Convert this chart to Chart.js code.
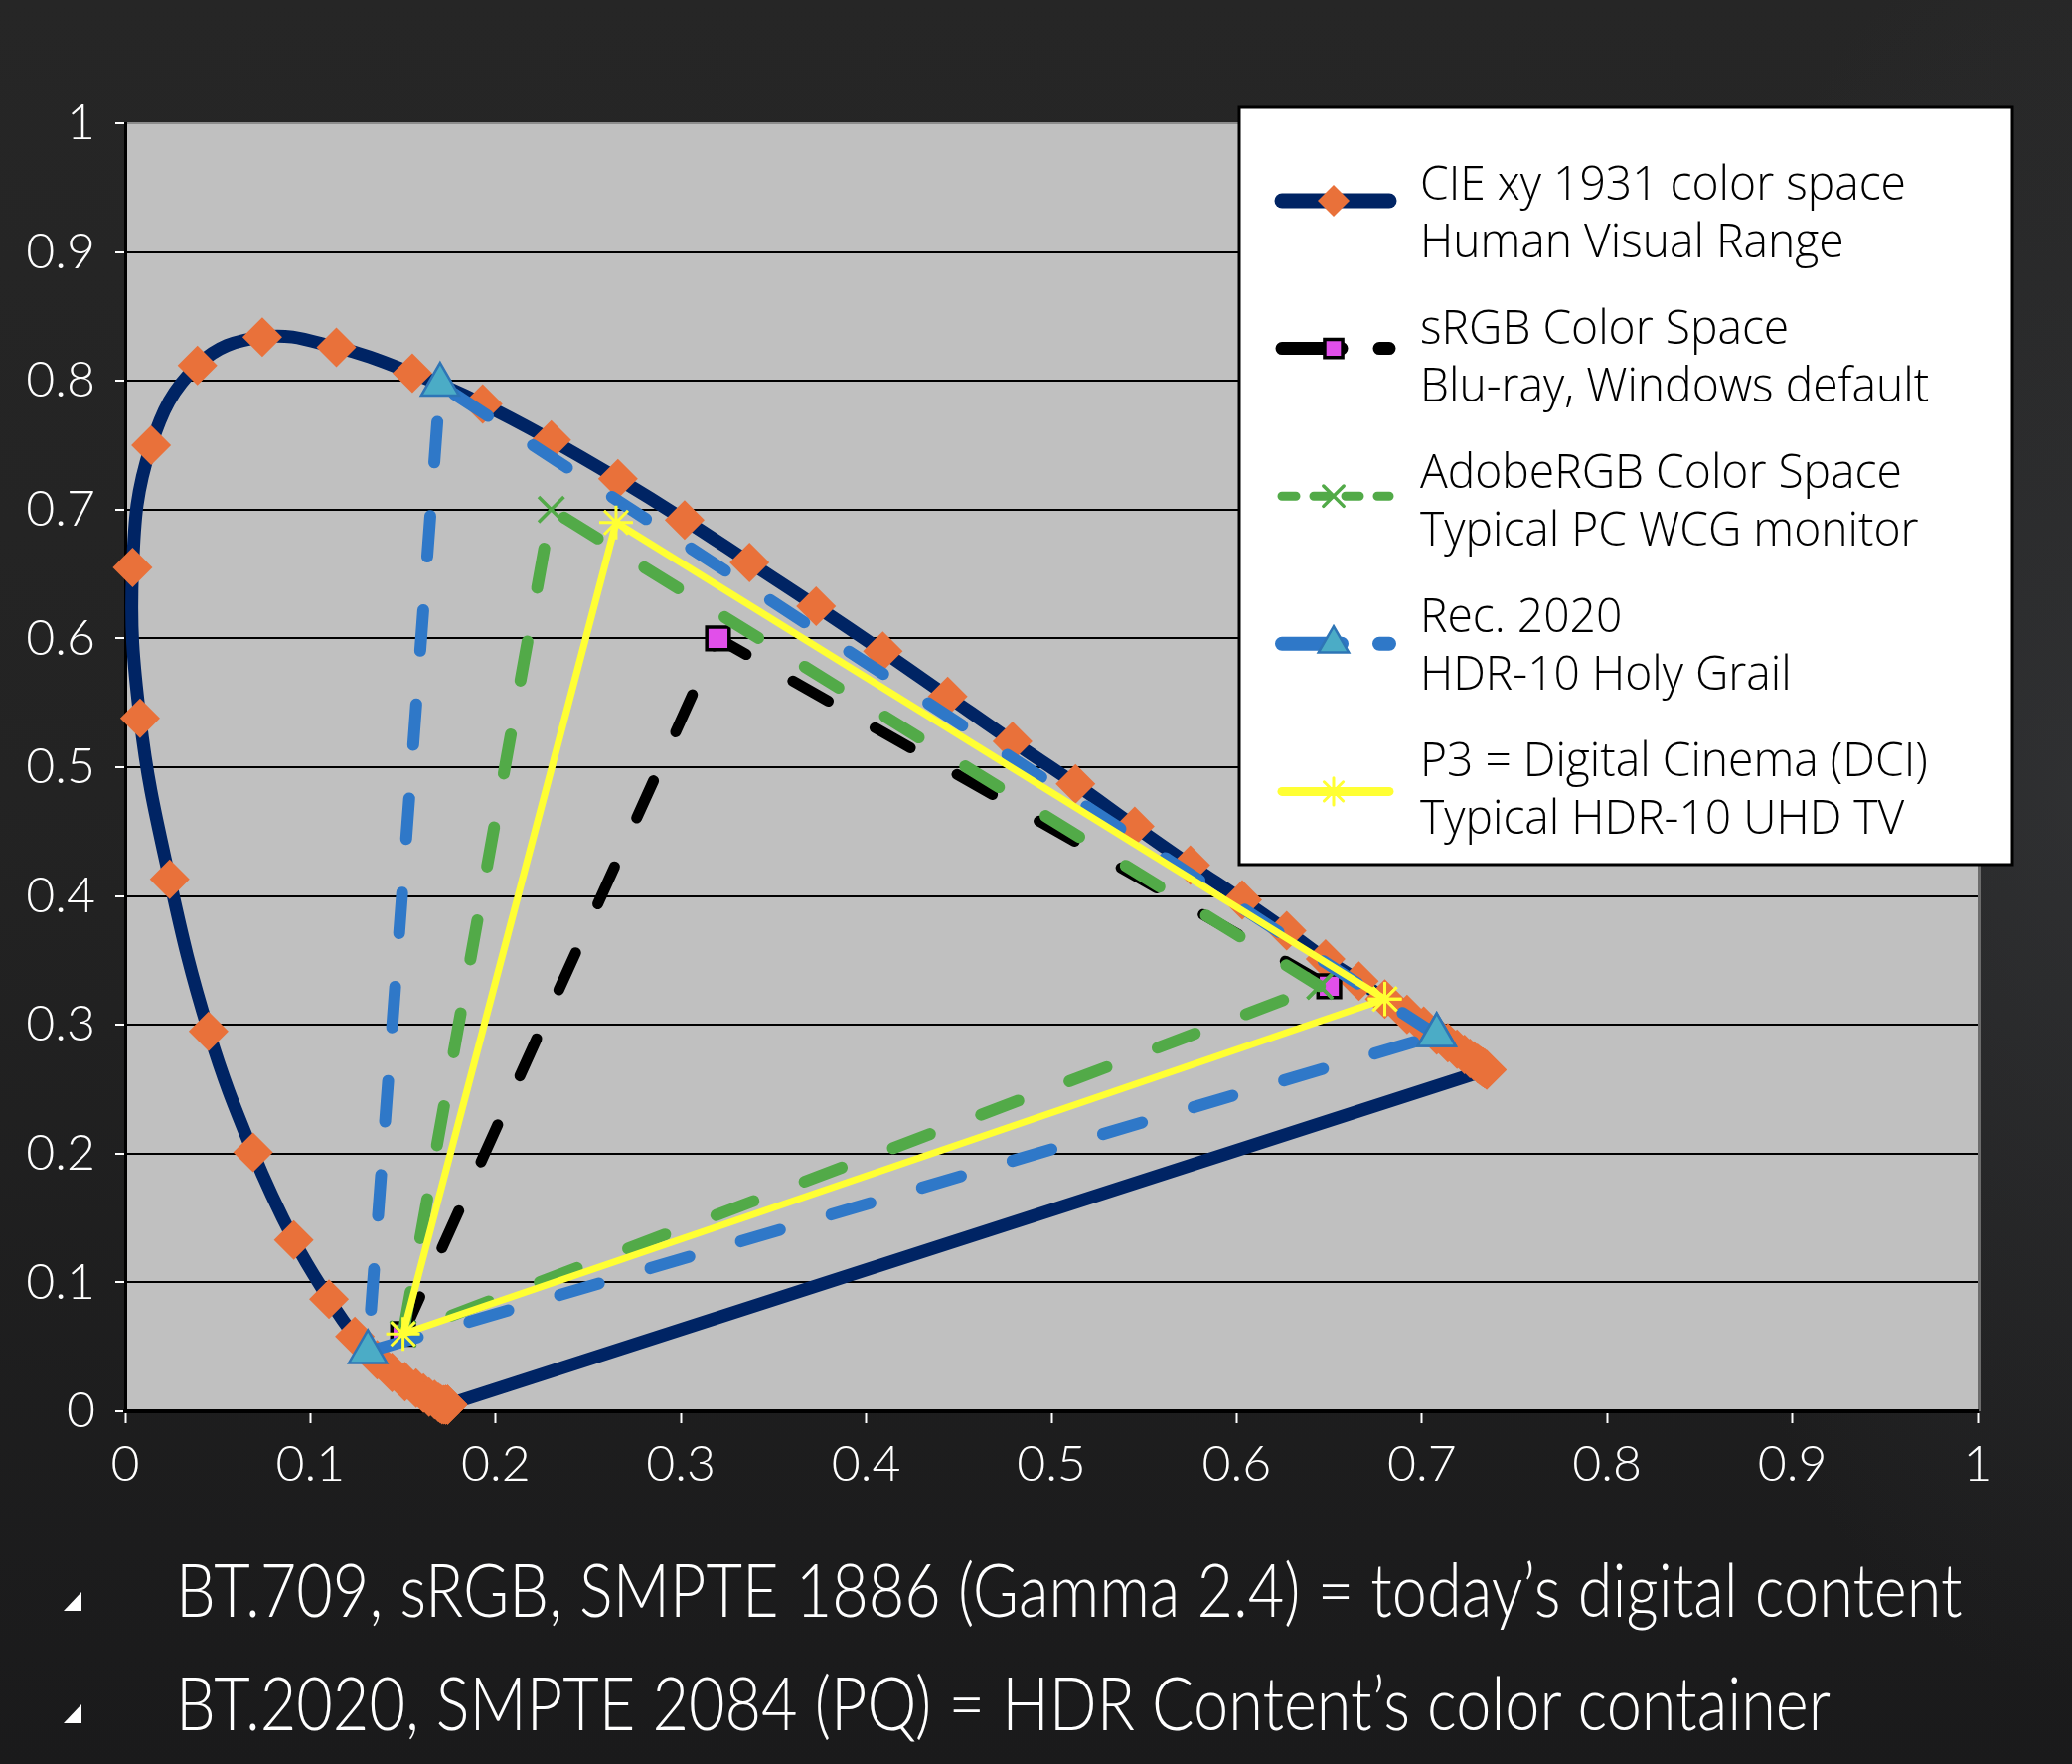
<!DOCTYPE html>
<html>
<head>
<meta charset="utf-8">
<title>Color gamuts on the CIE xy 1931 chart</title>
<script src="https://cdn.jsdelivr.net/npm/chart.js@4.4.1/dist/chart.umd.min.js"></script>
<style>
  html, body { margin: 0; padding: 0; }
  body {
    width: 2085px; height: 1775px; overflow: hidden; position: relative;
    background:
      radial-gradient(ellipse 420px 900px at 100% 45%, rgba(62, 64, 68, 0.45), rgba(0, 0, 0, 0) 100%),
      linear-gradient(180deg, #262626 0%, #232323 45%, #1a1a1b 100%);
    font-family: 'Open Sans', 'Noto Sans', sans-serif;
  }
  #wrap { position: absolute; left: 0; top: 0; width: 2085px; height: 1530px; }
  .note {
    position: absolute; left: 177px; color: #fff; font-family: Lato, 'Open Sans', sans-serif;
    font-size: 74px; font-weight: 300; line-height: 74px; white-space: nowrap; transform-origin: 0 0;
  }
  .bullet {
    position: absolute; left: 64px; width: 18px; height: 19px; background: #fff;
    clip-path: polygon(100% 0, 100% 100%, 0 100%);
  }
</style>
</head>
<body>
<div id="wrap"><canvas id="chart"></canvas></div>
<div class="bullet" style="top:1602px"></div>
<div class="note" id="note1" style="top:1562px">BT.709, sRGB, SMPTE 1886 (Gamma 2.4) = today’s digital content</div>
<div class="bullet" style="top:1715px"></div>
<div class="note" id="note2" style="top:1676px">BT.2020, SMPTE 2084 (PQ) = HDR Content’s color container</div>
<script>
// spectral locus, 380 -> 700 nm, then back to 380 nm (line of purples)
const cieX = [0.174, 0.174, 0.174, 0.174, 0.173, 0.173, 0.173, 0.172, 0.171, 0.170,
  0.169, 0.167, 0.164, 0.161, 0.157, 0.151, 0.144, 0.136, 0.124, 0.110,
  0.091, 0.069, 0.045, 0.024, 0.008, 0.004, 0.014, 0.039, 0.074, 0.114,
  0.155, 0.193, 0.230, 0.266, 0.302, 0.337, 0.373, 0.409, 0.444, 0.479,
  0.513, 0.545, 0.575, 0.603, 0.627, 0.648, 0.666, 0.680, 0.692, 0.701,
  0.708, 0.714, 0.719, 0.723, 0.726, 0.728, 0.730, 0.731, 0.732, 0.733,
  0.733, 0.734, 0.734, 0.735, 0.735, 0.174];
const cieY = [0.005, 0.005, 0.005, 0.005, 0.005, 0.005, 0.005, 0.005, 0.005, 0.006,
  0.007, 0.009, 0.011, 0.014, 0.018, 0.023, 0.030, 0.040, 0.058, 0.087,
  0.133, 0.201, 0.295, 0.413, 0.538, 0.655, 0.750, 0.812, 0.834, 0.826,
  0.806, 0.782, 0.754, 0.724, 0.692, 0.659, 0.625, 0.590, 0.555, 0.520,
  0.487, 0.454, 0.424, 0.397, 0.373, 0.351, 0.334, 0.320, 0.308, 0.299,
  0.292, 0.286, 0.281, 0.277, 0.274, 0.272, 0.270, 0.269, 0.268, 0.267,
  0.267, 0.266, 0.266, 0.265, 0.265, 0.005];

// gamut triangles (blue, green, red corners)
const srgbX = [0.15, 0.32, 0.65];
const srgbY = [0.06, 0.60, 0.33];
const adobeX = [0.645, 0.23, 0.15, 0.645];
const adobeY = [0.33, 0.70, 0.06, 0.33];
const rec2020X = [0.708, 0.170, 0.131, 0.708];
const rec2020Y = [0.292, 0.797, 0.046, 0.292];
const p3X = [0.680, 0.265, 0.150, 0.680];
const p3Y = [0.320, 0.690, 0.060, 0.320];

const xTickLabels = ['0', '0.1', '0.2', '0.3', '0.4', '0.5', '0.6', '0.7', '0.8', '0.9', '1'];
const yTickLabels = ['0', '0.1', '0.2', '0.3', '0.4', '0.5', '0.6', '0.7', '0.8', '0.9', '1'];

const legendLabels = [
  ['CIE xy 1931 color space', 'Human Visual Range'],
  ['sRGB Color Space', 'Blu-ray, Windows default'],
  ['AdobeRGB Color Space', 'Typical PC WCG monitor'],
  ['Rec. 2020', 'HDR-10 Holy Grail'],
  ['P3 = Digital Cinema (DCI)', 'Typical HDR-10 UHD TV']
];

const punti = (xs, ys) => xs.map((x, i) => ({ x: x, y: ys[i] }));

const fonte = "'Open Sans', 'Noto Sans', sans-serif";

const datasets = [
  {
    label: legendLabels[0].join(' '), data: punti(cieX, cieY), order: 5,
    borderColor: '#002464', borderWidth: 13, tension: 0.4,
    pointStyle: 'rectRot', pointRadius: 20, pointBackgroundColor: '#e9713a',
    pointBorderColor: '#e9713a', pointBorderWidth: 0
  },
  {
    label: legendLabels[1].join(' '), data: punti(srgbX, srgbY), order: 4,
    borderColor: '#000000', borderWidth: 11, borderDash: [41, 54],
    pointStyle: 'rect', pointRadius: 16, pointBackgroundColor: '#e14fea',
    pointBorderColor: '#000000', pointBorderWidth: 3.5
  },
  {
    label: legendLabels[2].join(' '), data: punti(adobeX, adobeY), order: 3,
    borderColor: '#52aa48', borderWidth: 12, borderDash: [40, 55],
    pointStyle: 'crossRot', pointRadius: 18, pointBackgroundColor: '#52aa48',
    pointBorderColor: '#52aa48', pointBorderWidth: 3.5
  },
  {
    label: legendLabels[3].join(' '), data: punti(rec2020X, rec2020Y), order: 2,
    borderColor: '#2f78c8', borderWidth: 12, borderDash: [41, 54],
    pointStyle: 'triangle', pointRadius: 22, pointBackgroundColor: '#4bacc6',
    pointBorderColor: '#2e75b6', pointBorderWidth: 2.5
  },
  {
    label: legendLabels[4].join(' '), data: punti(p3X, p3Y), order: 1,
    borderColor: '#ffff33', borderWidth: 7,
    pointStyle: 'star', pointRadius: 17, pointBackgroundColor: '#ffff33',
    pointBorderColor: '#ffff33', pointBorderWidth: 3
  }
].map(d => Object.assign({
  showLine: true, tension: 0, borderDash: [], borderCapStyle: 'round', borderJoinStyle: 'round',
  clip: false, pointHoverRadius: d.pointRadius
}, d));

// legend samples
const legendDash = [[], [60, 38], [14, 18], [60, 38], []];

// grey plot area
const sfondoGrafico = {
  id: 'sfondoGrafico',
  beforeDraw(chart) {
    const { ctx, chartArea: a } = chart;
    ctx.save();
    ctx.fillStyle = '#c0c0c0';
    ctx.fillRect(a.left, a.top, a.right - a.left, a.bottom - a.top);
    ctx.strokeStyle = '#6c6c6c';
    ctx.lineWidth = 3;
    ctx.beginPath();
    ctx.moveTo(a.right + 1.5, a.top);
    ctx.lineTo(a.right + 1.5, a.bottom);
    ctx.stroke();
    ctx.restore();
  }
};

// boxed legend like the Excel one, top right
const legenda = {
  id: 'legenda',
  afterDraw(chart) {
    const ctx = chart.ctx;
    const box = { left: 1247, top: 108, right: 2025, bottom: 870 };
    ctx.save();
    ctx.fillStyle = '#ffffff';
    ctx.fillRect(box.left, box.top, box.right - box.left, box.bottom - box.top);
    ctx.strokeStyle = '#000000';
    ctx.lineWidth = 3;
    ctx.strokeRect(box.left, box.top, box.right - box.left, box.bottom - box.top);

    ctx.font = '300 47px ' + fonte;
    const sx = 489 / ctx.measureText(legendLabels[0][0]).width;

    chart.data.datasets.forEach((d, i) => {
      const sy = box.top + 94 + i * 148.6;
      ctx.strokeStyle = d.borderColor;
      ctx.lineWidth = i === 2 ? 9 : d.borderWidth + 2;
      ctx.lineCap = 'round';
      ctx.setLineDash(legendDash[i]);
      ctx.beginPath();
      ctx.moveTo(1290, sy);
      ctx.lineTo(1398, sy);
      ctx.stroke();
      ctx.setLineDash([]);
      ctx.fillStyle = d.pointBackgroundColor;
      ctx.strokeStyle = d.pointBorderColor;
      ctx.lineWidth = d.pointBorderWidth;
      Chart.helpers.drawPoint(ctx, {
        pointStyle: d.pointStyle, radius: d.pointRadius * 0.8, rotation: 0,
        borderWidth: d.pointBorderWidth
      }, 1342, sy);

      ctx.fillStyle = '#000000';
      ctx.font = '300 47px ' + fonte;
      ctx.textBaseline = 'middle';
      ctx.textAlign = 'left';
      const ty = box.top + 80 + i * 145;
      legendLabels[i].forEach((riga, k) => {
        ctx.save();
        ctx.translate(1429, ty + k * 58);
        ctx.scale(sx, 1);
        ctx.fillText(riga, 0, 0);
        ctx.restore();
      });
    });
    ctx.restore();
  }
};

const tickFont = { family: "Lato, 'Open Sans', sans-serif", size: 50, weight: '300', style: 'condensed' };

new Chart(document.getElementById('chart'), {
  type: 'scatter',
  data: { datasets: datasets },
  plugins: [sfondoGrafico, legenda],
  options: {
    responsive: true,
    maintainAspectRatio: false,
    animation: false,
    layout: { padding: { top: 124, right: 95, left: 0, bottom: 0 } },
    plugins: { legend: { display: false }, tooltip: { enabled: false } },
    scales: {
      x: {
        type: 'linear', min: 0, max: 1, position: 'bottom',
        afterFit: s => { s.height = 110; },
        ticks: {
          stepSize: 0.1, color: '#ffffff', font: tickFont, padding: 12,
          maxRotation: 0, autoSkip: false, callback: (v, i) => xTickLabels[i]
        },
        grid: { drawOnChartArea: false, drawTicks: true, tickLength: 12, tickColor: '#ffffff', tickWidth: 2 },
        border: { color: '#000000', width: 4 }
      },
      y: {
        type: 'linear', min: 0, max: 1,
        afterFit: s => { s.width = 126; },
        ticks: {
          stepSize: 0.1, color: '#ffffff', font: tickFont, padding: 20,
          autoSkip: false, callback: (v, i) => yTickLabels[i]
        },
        grid: {
          color: c => (c.index === 10 ? '#8c8c8c' : '#000000'),
          lineWidth: 2, tickLength: 10, tickColor: '#ffffff', tickWidth: 2
        },
        border: { color: '#000000', width: 3 }
      }
    }
  }
});

// bottom notes: squeeze to the width of the original slide text
document.fonts.ready.then(() => {
  const n1 = document.getElementById('note1');
  const n2 = document.getElementById('note2');
  const k = 1798 / n1.offsetWidth;
  n1.style.transform = 'scaleX(' + k + ')';
  n2.style.transform = 'scaleX(' + k + ')';
});
</script>
</body>
</html>
